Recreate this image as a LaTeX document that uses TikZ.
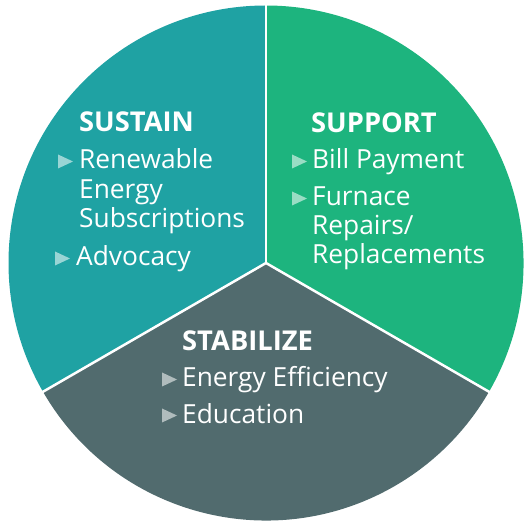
\documentclass[tikz,border=0pt]{standalone}
\usepackage{fontspec}
\setmainfont{Open Sans}
\definecolor{sustainc}{RGB}{31,162,163}
\definecolor{supportc}{RGB}{29,180,126}
\definecolor{stabilc}{RGB}{81,107,110}
\tikzset{
  head/.style={anchor=base west,inner sep=0pt,text=white,font=\fontsize{27.3}{30}\selectfont\bfseries},
  item/.style={anchor=base west,inner sep=0pt,text=white,font=\fontsize{26.3}{30}\selectfont},
  bul/.style={fill=white,fill opacity=0.55},
  sep/.style={draw=white,line width=2.5pt}
}
\newcommand{\bult}[2]{\fill[bul] (#1,#2+0.5) -- (#1,#2+14.5) -- (#1+15,#2+7.5) -- cycle;}
\begin{document}
\begin{tikzpicture}[x=1pt,y=1pt]
\useasboundingbox (0,0) rectangle (527,522);
\coordinate (c) at (266,259);
\def\R{257.5}
\fill[sustainc] (c) -- ++(90:\R) arc (90:210:\R) -- cycle;
\fill[supportc] (c) -- ++(330:\R) arc (-30:90:\R) -- cycle;
\fill[stabilc] (c) -- ++(210:\R) arc (210:330:\R) -- cycle;
\draw[sep] (c) -- ++(90:\R+2);
\draw[sep] (c) -- ++(210:\R+2);
\draw[sep] (c) -- ++(330:\R+2);
% SUSTAIN
\node[head] (sh) at (79,390) {SUSTAIN};
\bult{58}{353}
\node[item] (s1a) at (79,353) {Renewable};
\node[item] (s1b) at (79,323) {Energy};
\node[item] (s1c) at (79,294) {Subscriptions};
\bult{55}{256}
\node[item] (s2) at (76,256) {Advocacy};
% SUPPORT
\node[head] (uh) at (311,389) {SUPPORT};
\bult{292}{353}
\node[item] (u1) at (312,353) {Bill Payment};
\bult{292}{316}
\node[item] (u2a) at (312,316) {Furnace};
\node[item] (u2b) at (312,287) {Repairs/};
\node[item] (u2c) at (312,258) {Replacements};
% STABILIZE
\node[head] (bh) at (182,171) {STABILIZE};
\bult{162}{135}
\node[item] (b1) at (182,135) {Energy Efficiency};
\bult{162}{99}
\node[item] (b2) at (182,99) {Education};
\end{tikzpicture}
\end{document}
